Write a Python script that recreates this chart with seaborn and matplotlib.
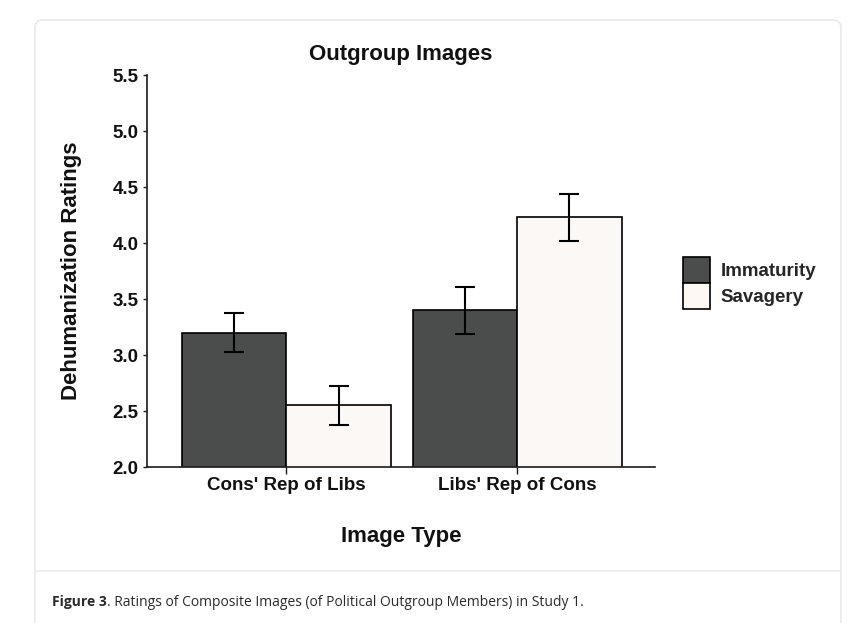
import matplotlib
matplotlib.use("Agg")
import matplotlib.pyplot as plt
from matplotlib.patches import FancyBboxPatch, Patch
from matplotlib.lines import Line2D
from matplotlib.transforms import IdentityTransform
import pandas as pd
import seaborn as sns

# Data
image_types = ["Cons' Rep of Libs", "Libs' Rep of Cons"]
immaturity = [3.20, 3.40]
savagery = [2.55, 4.23]
immaturity_err = [0.175, 0.21]
savagery_err = [0.175, 0.21]
y_ticks = [2.0, 2.5, 3.0, 3.5, 4.0, 4.5, 5.0, 5.5]

df = pd.DataFrame({
    "Image Type": image_types * 2,
    "Trait": ["Immaturity"] * 2 + ["Savagery"] * 2,
    "Rating": immaturity + savagery,
    "Err": immaturity_err + savagery_err,
})

sns.set_theme(style="ticks")
plt.rcParams["font.family"] = ["Liberation Sans", "DejaVu Sans"]
plt.rcParams["font.weight"] = "bold"

colors = {"Immaturity": "#4b4d4c", "Savagery": "#fdf8f4"}

fig = plt.figure(figsize=(8.63, 6.23), dpi=100)
fig.patch.set_facecolor("white")

# card background with border and caption separator (pixel coords)
card = FancyBboxPatch((35, -40), 806, 643, boxstyle="round,pad=0,rounding_size=8",
                      transform=IdentityTransform(), facecolor="white",
                      edgecolor="#e9e9e9", linewidth=1.2, zorder=-10)
fig.patches.append(card)
fig.lines.append(Line2D([35, 841], [623 - 570.5, 623 - 570.5], transform=IdentityTransform(),
                        color="#ececec", linewidth=1.2, zorder=-9))

ax = fig.add_axes([147 / 863, 1 - 467 / 623, 508 / 863, 392 / 623])
ax.set_facecolor("none")

sns.barplot(data=df, x="Image Type", y="Rating", hue="Trait", palette=colors,
            width=0.905, edgecolor="black", linewidth=1.2, errorbar=None,
            legend=False, ax=ax)

# error bars at bar centres
for container, trait in zip(ax.containers, ["Immaturity", "Savagery"]):
    sub = df[df["Trait"] == trait]
    xs = [bar.get_x() + bar.get_width() / 2 for bar in container]
    ax.errorbar(xs, sub["Rating"], yerr=sub["Err"], fmt="none", ecolor="black",
                elinewidth=1.5, capsize=7.5, capthick=1.5, zorder=5)

ax.set_ylim(2.0, 5.5)
ax.set_xlim(-0.604, 1.597)
ax.set_yticks(y_ticks)
ax.set_yticklabels([f"{t:.1f}" for t in y_ticks])
sns.despine(ax=ax)
for side in ["left", "bottom"]:
    ax.spines[side].set_linewidth(1.2)
    ax.spines[side].set_color("#1a1a1a")
ax.tick_params(axis="y", length=3, width=1, color="#1a1a1a", labelsize=13.5, pad=3)
ax.tick_params(axis="x", length=5, width=1, color="#1a1a1a", labelsize=13.5, pad=2)
for lab in ax.get_xticklabels() + ax.get_yticklabels():
    lab.set_fontweight("bold")
    lab.set_color("#111111")

ax.set_title("Outgroup Images", fontsize=16, fontweight="bold", pad=10.5, color="#111111")
ax.set_xlabel("Image Type", fontsize=16, fontweight="bold", labelpad=23, color="#111111")
ax.set_ylabel("Dehumanization Ratings", fontsize=16, fontweight="bold", labelpad=22,
              color="#111111")

handles = [Patch(facecolor=colors[t], edgecolor="black", linewidth=1.2) for t in colors]
leg = fig.legend(handles, list(colors), loc="upper left",
                 bbox_to_anchor=(683 / 863, 1 - 257 / 623), frameon=False,
                 borderpad=0, borderaxespad=0, handlelength=1.45, handleheight=1.76,
                 labelspacing=0.0, handletextpad=0.55,
                 prop={"family": "Liberation Sans", "weight": "bold", "size": 13.5})

# caption
cap1 = fig.text(52 / 863, 1 - 602 / 623, "Figure 3", fontsize=10, fontweight="bold",
                family="Open Sans", color="#2b2b2b", va="center", ha="left")
renderer = fig.canvas.get_renderer()
bb = cap1.get_window_extent(renderer)
fig.text(bb.x1 / 863, 1 - 602 / 623,
         ". Ratings of Composite Images (of Political Outgroup Members) in Study 1.",
         fontsize=10, fontweight="normal", family="Open Sans", color="#2b2b2b",
         va="center", ha="left")

fig.savefig("out.png", dpi=100)
